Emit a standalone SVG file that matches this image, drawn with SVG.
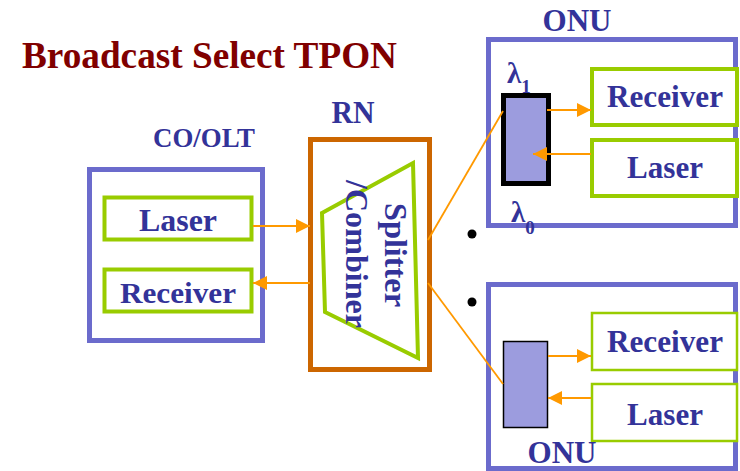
<svg xmlns="http://www.w3.org/2000/svg" width="740" height="471" viewBox="0 0 740 471">
<defs>
<style>
.lbl{font-family:"Liberation Serif","Times New Roman",serif;font-weight:bold;fill:#333399;}
.title{font-family:"Liberation Serif","Times New Roman",serif;font-weight:bold;fill:#800000;font-size:37px;}
.sys{fill:#fff;stroke:#6B6BCC;stroke-width:5;}
.mod{fill:#fff;stroke:#99CC00;stroke-width:4;}
.modt{fill:#fff;stroke:#99CC00;stroke-width:2.5;}
.rn{fill:#fff;stroke:#CC6600;stroke-width:5;}
.conn{stroke:#FF9900;stroke-width:2;fill:none;}
.fib{stroke:#FF9900;stroke-width:1.8;fill:none;}
</style>
<marker id="ah" markerUnits="userSpaceOnUse" markerWidth="14" markerHeight="14" refX="14" refY="7" orient="auto">
<path d="M0,0 L14,7 L0,14 z" fill="#FF9900"/>
</marker>
</defs>
<rect width="740" height="471" fill="#fff"/>
<text class="title" x="22" y="68" textLength="375" lengthAdjust="spacingAndGlyphs">Broadcast Select TPON</text>

<g id="co-olt">
<text class="lbl" x="204" y="147" font-size="28" text-anchor="middle" textLength="102" lengthAdjust="spacingAndGlyphs">CO/OLT</text>
<rect class="sys" x="89.5" y="169.5" width="173" height="171"/>
</g>
<g id="co-laser">
<rect class="mod" x="104.5" y="197.5" width="147" height="42"/>
<text class="lbl" x="178" y="231" font-size="31" text-anchor="middle" textLength="78" lengthAdjust="spacingAndGlyphs">Laser</text>
</g>
<g id="co-receiver">
<rect class="mod" x="104.5" y="269.5" width="147" height="42"/>
<text class="lbl" x="178" y="303" font-size="30" text-anchor="middle" textLength="116" lengthAdjust="spacingAndGlyphs">Receiver</text>
</g>

<g id="rn">
<text class="lbl" x="353" y="123" font-size="31" text-anchor="middle" textLength="43" lengthAdjust="spacingAndGlyphs">RN</text>
<rect class="rn" x="310.5" y="139.5" width="119" height="230"/>
<polygon points="322,213 413,163 418,358 325,312" fill="none" stroke="#99CC00" stroke-width="4"/>
<text class="lbl" font-size="31" text-anchor="middle" transform="translate(385,255) rotate(90)" textLength="104" lengthAdjust="spacingAndGlyphs">Splitter</text>
<text class="lbl" font-size="31" text-anchor="middle" transform="translate(346,254) rotate(90)" textLength="148" lengthAdjust="spacingAndGlyphs">/Combiner</text>
</g>

<circle cx="472" cy="234" r="4.5" fill="#000"/>
<circle cx="472" cy="302" r="4.5" fill="#000"/>

<g id="onu-top">
<text class="lbl" x="577" y="31" font-size="31" text-anchor="middle" textLength="69" lengthAdjust="spacingAndGlyphs">ONU</text>
<rect class="sys" x="488.5" y="39.5" width="247" height="186"/>
<rect class="mod" x="592" y="69" width="145" height="56"/>
<text class="lbl" x="665" y="107" font-size="31" text-anchor="middle" textLength="116" lengthAdjust="spacingAndGlyphs">Receiver</text>
<rect class="mod" x="592" y="140" width="145" height="56"/>
<text class="lbl" x="665" y="178" font-size="31" text-anchor="middle" textLength="76" lengthAdjust="spacingAndGlyphs">Laser</text>
<text class="lbl" x="507" y="83" font-size="29">λ<tspan font-size="19" dy="10">1</tspan></text>
<rect x="503.5" y="95.5" width="45" height="88" fill="#9C9CDE" stroke="#000" stroke-width="5"/>
<text class="lbl" x="511" y="222" font-size="29">λ<tspan font-size="19" dy="12">0</tspan></text>
</g>

<g id="onu-bottom">
<rect class="sys" x="488.5" y="284.5" width="247" height="184"/>
<rect class="modt" x="592" y="313" width="145" height="57"/>
<text class="lbl" x="665" y="352" font-size="31" text-anchor="middle" textLength="116" lengthAdjust="spacingAndGlyphs">Receiver</text>
<rect class="modt" x="592" y="384" width="145" height="57"/>
<text class="lbl" x="665" y="425" font-size="31" text-anchor="middle" textLength="76" lengthAdjust="spacingAndGlyphs">Laser</text>
<rect x="503.5" y="341.5" width="44" height="86" fill="#9C9CDE" stroke="#000" stroke-width="1.5"/>
<text class="lbl" x="562" y="463" font-size="31" text-anchor="middle" textLength="69" lengthAdjust="spacingAndGlyphs">ONU</text>
</g>

<g id="connectors">
<line class="conn" x1="253" y1="226" x2="310" y2="226" marker-end="url(#ah)"/>
<line class="conn" x1="310" y1="283" x2="253" y2="283" marker-end="url(#ah)"/>
<line class="fib" x1="428" y1="240" x2="503" y2="111"/>
<line class="fib" x1="428" y1="283" x2="503" y2="384"/>
<line class="conn" x1="547" y1="110" x2="591" y2="110" marker-end="url(#ah)"/>
<line class="conn" x1="591" y1="154" x2="533" y2="154" marker-end="url(#ah)"/>
<line class="conn" x1="548" y1="356" x2="591" y2="356" marker-end="url(#ah)"/>
<line class="conn" x1="591" y1="398" x2="548" y2="398" marker-end="url(#ah)"/>
</g>
</svg>
